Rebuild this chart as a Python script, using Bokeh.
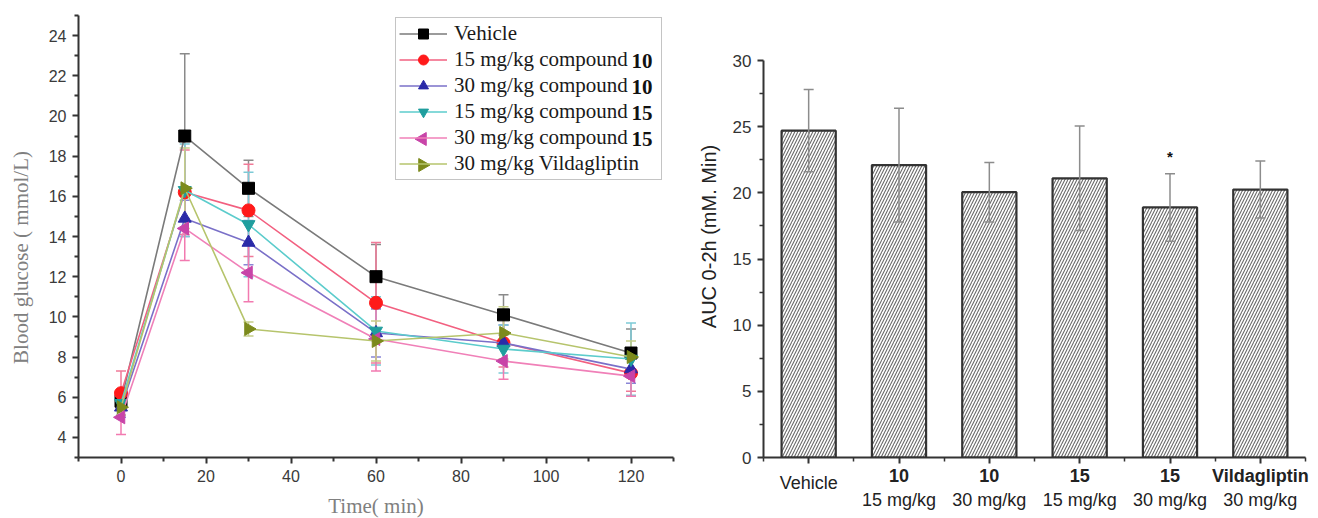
import numpy as np
from bokeh.plotting import figure
from bokeh.models import (ColumnDataSource, Whisker, TeeHead, Legend, LegendItem,
                          Label, FixedTicker, Range1d, LinearAxis)
from bokeh.layouts import row
from bokeh.embed import file_html
from bokeh.resources import INLINE
from bokeh.core.properties import value

# ---------------- data: left panel (blood glucose, mmol/L) ----------------
time_min = [0, 15, 30, 60, 90, 120]

vehicle = [5.8, 19.0, 16.4, 12.0, 10.1, 8.2]
vehicle_err = [0.4, 4.1, 1.4, 1.6, 1.0, 1.2]
c10_15 = [6.2, 16.2, 15.3, 10.7, 8.7, 7.2]
c10_15_err = [1.1, 2.1, 2.3, 3.0, 1.2, 0.9]
c10_30 = [5.5, 14.9, 13.7, 9.2, 8.7, 7.4]
c10_30_err = [0.5, 0.9, 1.1, 1.2, 0.9, 0.7]
c15_15 = [5.7, 16.3, 14.6, 9.3, 8.4, 7.9]
c15_15_err = [0.6, 2.3, 2.6, 1.7, 1.2, 1.8]
c15_30 = [5.0, 14.4, 12.2, 8.9, 7.8, 7.05]
c15_30_err = [0.85, 1.6, 1.45, 1.6, 0.9, 1.0]
vilda = [5.5, 16.4, 9.4, 8.8, 9.2, 8.0]
vilda_err = [0.4, 2.0, 0.35, 1.0, 1.3, 0.8]

legend_text = ["Vehicle", "15 mg/kg compound", "30 mg/kg compound",
               "15 mg/kg compound", "30 mg/kg compound", "30 mg/kg Vildagliptin"]
legend_bold = ["", "10", "10", "15", "15", ""]

# ---------------- data: right panel (AUC 0-2h) ----------------
bar_top_labels = ["Vehicle", "10", "10", "15", "15", "Vildagliptin"]
bar_dose_labels = ["", "15 mg/kg", "30 mg/kg", "15 mg/kg", "30 mg/kg", "30 mg/kg"]
auc = [24.7, 22.1, 20.05, 21.1, 18.9, 20.25]
auc_err = [3.1, 4.3, 2.25, 3.95, 2.55, 2.15]
significant = [False, False, False, False, True, False]

# ---------------- styles ----------------
series = [vehicle, c10_15, c10_30, c15_15, c15_30, vilda]
errors = [vehicle_err, c10_15_err, c10_30_err, c15_15_err, c15_30_err, vilda_err]
marker_colors = ["#000000", "#ff1a1a", "#2a2aa8", "#1f9e9e", "#c844a8", "#7c8a1c"]
line_colors = ["#7a7a7a", "#f26080", "#7a70c8", "#5ccccc", "#f080b8", "#b6c46c"]
err_colors = ["#8a8a8a", "#f07a98", "#8a86d6", "#7ccad6", "#f27ab0", "#c4cc88"]
markers = ["square", "circle", "triangle", "inverted_triangle", "triangle", "triangle"]
angles = [0, 0, 0, 0, np.pi / 2, -np.pi / 2]
msizes = [12, 13, 13, 13, 13, 13]

AX = "#333333"
SANS = "Liberation Sans"
SERIF = "Liberation Serif"

TOP = 15          # frame top (px) shared by both panels
FRAME_BOT = 457   # frame bottom (px) shared by both panels
H = 530

# ---------------- left figure ----------------
p1 = figure(width=690, height=H, x_range=Range1d(-10, 130), y_range=Range1d(3, 25),
            output_backend="svg", toolbar_location=None,
            min_border_left=78, min_border_right=17, min_border_top=TOP,
            min_border_bottom=H - FRAME_BOT)
p1.outline_line_color = None
p1.grid.grid_line_color = None

p1.xaxis.ticker = FixedTicker(ticks=list(range(0, 121, 20)), minor_ticks=list(range(-10, 131, 20)))
p1.yaxis.ticker = FixedTicker(ticks=list(range(4, 25, 2)), minor_ticks=list(range(3, 26, 2)))
for ax in (p1.xaxis[0], p1.yaxis[0]):
    ax.axis_line_color = AX
    ax.axis_line_width = 2
    ax.major_tick_line_color = AX
    ax.minor_tick_line_color = AX
    ax.major_tick_line_width = 2
    ax.minor_tick_line_width = 2
    ax.major_tick_in = 0
    ax.major_tick_out = 6
    ax.minor_tick_in = 0
    ax.minor_tick_out = 4
    ax.major_label_text_font = SANS
    ax.major_label_text_font_size = "16px"
    ax.major_label_text_color = "#3a3a3a"
    ax.axis_label_text_font = SERIF
    ax.axis_label_text_font_style = "normal"
    ax.axis_label_text_color = "#808080"
p1.xaxis.axis_label = "Time( min)"
p1.xaxis.axis_label_text_font_size = "21px"
p1.yaxis.axis_label = "Blood glucose ( mmol/L)" + "\u00a0" * 8
p1.yaxis.axis_label_text_font_size = "21px"
p1.xaxis.major_label_standoff = 6
p1.xaxis.axis_label_standoff = 9
p1.yaxis.major_label_standoff = 6
p1.yaxis.axis_label_standoff = 13

# legend geometry (page px): left 395, bottom 180
LEG_L, LEG_B, PAD, LH, SP = 395, 180, 3, 25, 1
px_per_y = (FRAME_BOT - TOP) / 22.0
px_per_x = (673 - 78) / 140.0
leg_top = LEG_B - (2 * PAD + 6 * LH + 5 * SP)
row_y = [25 - (leg_top + PAD + LH / 2 + k * (LH + SP) - TOP) / px_per_y for k in range(6)]
glyph_x = -10 + (LEG_L + PAD + 24 - 78) / px_per_x

items = []
for k in range(6):
    y = np.array(series[k])
    e = np.array(errors[k])
    src = ColumnDataSource(dict(x=time_min, y=series[k], upper=list(y + e), lower=list(y - e)))
    w = Whisker(base="x", upper="upper", lower="lower", source=src,
                line_color=err_colors[k], line_width=1.5,
                upper_head=TeeHead(size=10, line_color=err_colors[k], line_width=1.5),
                lower_head=TeeHead(size=10, line_color=err_colors[k], line_width=1.5))
    p1.add_layout(w)
    lr = p1.line("x", "y", source=src, line_color=line_colors[k], line_width=1.6)
    sr = p1.scatter("x", "y", source=src, marker=markers[k], angle=angles[k],
                    size=msizes[k], fill_color=marker_colors[k], line_color=marker_colors[k])
    if angles[k] == 0:
        items.append(LegendItem(label=legend_text[k], renderers=[lr, sr]))
    else:
        # rotated triangles: legend swatch marker drawn separately (legend ignores angle)
        items.append(LegendItem(label=legend_text[k], renderers=[lr]))
        p1.scatter(x=[glyph_x], y=[row_y[k]], marker=markers[k], angle=angles[k],
                   size=msizes[k], fill_color=marker_colors[k], line_color=marker_colors[k])

legend = Legend(items=items, location=(LEG_L - 78, FRAME_BOT - LEG_B), orientation="vertical",
                label_text_font=SERIF, label_text_font_size="21px", label_text_color="#1a1a1a",
                glyph_width=48, glyph_height=LH, label_height=LH, label_width=204,
                spacing=SP, padding=PAD, margin=0, label_standoff=7,
                border_line_color="#8a8a8a", border_line_width=1.2,
                background_fill_alpha=0.0)
p1.add_layout(legend)

# bold compound numbers appended to legend entries
for k in range(6):
    if legend_bold[k]:
        xd = -10 + (631 - 78) / px_per_x
        p1.add_layout(Label(x=xd, y=row_y[k], text=legend_bold[k], text_font=SERIF,
                            text_font_style="bold", text_font_size="21px",
                            text_color="#111111", text_baseline="middle"))

# ---------------- right figure ----------------
idx = list(range(len(auc)))
px_per_auc = (FRAME_BOT - 60) / 30.0
p2 = figure(width=628, height=H, x_range=Range1d(-0.5, 5.5),
            y_range=Range1d(0, 30 + (60 - TOP) / px_per_auc),
            output_backend="svg", toolbar_location=None,
            min_border_left=73, min_border_right=13, min_border_top=TOP,
            min_border_bottom=H - FRAME_BOT)
p2.outline_line_color = None
p2.grid.grid_line_color = None

p2.xaxis.ticker = FixedTicker(ticks=idx, minor_ticks=[i - 0.5 for i in range(len(auc) + 1)])
p2.yaxis.ticker = FixedTicker(ticks=list(range(0, 31, 5)), minor_ticks=[2.5 + 5 * i for i in range(6)])
p2.yaxis.bounds = (0, 30)
for ax in (p2.xaxis[0], p2.yaxis[0]):
    ax.axis_line_color = AX
    ax.axis_line_width = 2
    ax.major_tick_line_color = AX
    ax.minor_tick_line_color = AX
    ax.major_tick_line_width = 2
    ax.minor_tick_line_width = 1.5
    ax.major_tick_in = 0
    ax.major_tick_out = 6
    ax.minor_tick_in = 0
    ax.minor_tick_out = 4
    ax.major_label_text_font = SANS
    ax.major_label_text_font_size = "17px"
    ax.major_label_text_color = "#333333"
    ax.axis_label_text_font = SANS
    ax.axis_label_text_font_style = "normal"
    ax.axis_label_text_color = "#222222"
p2.yaxis.axis_label = "AUC 0-2h (mM. Min)"
p2.yaxis.axis_label_text_font_size = "20px"
p2.yaxis.major_label_standoff = 6
p2.yaxis.axis_label_standoff = 10

# main x axis: bold compound numbers
p2.xaxis.major_label_overrides = {i: (bar_top_labels[i] if bar_dose_labels[i] else "") for i in idx}
p2.xaxis.major_label_text_font_style = "bold"
p2.xaxis.major_label_text_font_size = "18px"
p2.xaxis.major_label_text_color = "#222222"
p2.xaxis.major_label_standoff = 2

dose_axis = LinearAxis(ticker=FixedTicker(ticks=idx, minor_ticks=[]),
                       major_label_overrides={i: bar_dose_labels[i] for i in idx},
                       axis_line_color=None, major_tick_line_color=None, minor_tick_line_color=None,
                       major_tick_in=0, major_tick_out=0, minor_tick_in=0, minor_tick_out=0,
                       major_label_standoff=1, major_label_text_font=SANS,
                       major_label_text_font_size="18px", major_label_text_color="#222222")
p2.add_layout(dose_axis, "below")

plain_axis = LinearAxis(ticker=FixedTicker(ticks=idx, minor_ticks=[]),
                        major_label_overrides={i: ("" if bar_dose_labels[i] else bar_top_labels[i]) for i in idx},
                        axis_line_color=None, major_tick_line_color=None, minor_tick_line_color=None,
                        major_tick_in=0, major_tick_out=0, minor_tick_in=0, minor_tick_out=0,
                        major_label_standoff=-40, major_label_text_font=SANS,
                        major_label_text_font_size="18px", major_label_text_color="#222222")
p2.add_layout(plain_axis, "below")

a = np.array(auc)
ae = np.array(auc_err)
bsrc = ColumnDataSource(dict(x=idx, top=auc, upper=list(a + ae), lower=list(a - ae)))
p2.vbar(x="x", top="top", width=0.6, source=bsrc, fill_color="white",
        line_color="#333333", line_width=2.2,
        hatch_pattern="/", hatch_color="#6a6a6a", hatch_scale=6, hatch_weight=1.1)
bw = Whisker(base="x", upper="upper", lower="lower", source=bsrc, level="annotation",
             line_color="#8c8c8c", line_width=1.5,
             upper_head=TeeHead(size=10, line_color="#8c8c8c", line_width=1.5),
             lower_head=TeeHead(size=10, line_color="#8c8c8c", line_width=1.5))
p2.add_layout(bw)

sig_x = [i for i in idx if significant[i]]
sig_y = [auc[i] + auc_err[i] + 1.3 for i in idx if significant[i]]
p2.text(x=sig_x, y=sig_y, text=["*"] * len(sig_x), text_font=value(SANS),
        text_font_size="15px", text_font_style="bold", text_color="#111111",
        text_align="center", text_baseline="middle")

layout = row(p1, p2)
open("out.html", "w").write(file_html(layout, INLINE))
